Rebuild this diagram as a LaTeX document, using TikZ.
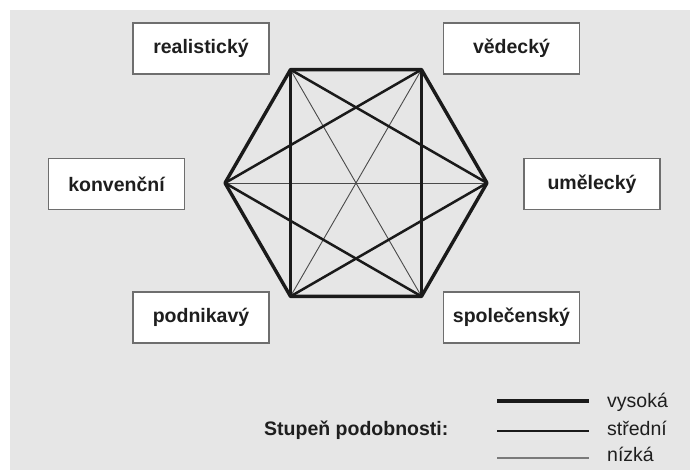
\documentclass[tikz,border=0pt]{standalone}
\usepackage{fontspec}
\setmainfont{Liberation Sans}
\definecolor{bgc}{HTML}{E6E6E6}
\definecolor{boxline}{HTML}{6E6E6E}
\definecolor{txt}{HTML}{1E1E1E}
\definecolor{ink}{HTML}{1A1A1A}
\definecolor{thinink}{HTML}{4A4A4A}
\definecolor{legthin}{HTML}{7A7A7A}
\tikzset{
  typebox/.style={draw=boxline, line width=1.6pt, fill=white, minimum width=136pt, minimum height=51pt, inner sep=0pt, text=txt, font=\fontsize{19.5}{23}\selectfont\bfseries},
  vys/.style={draw=ink, line width=3.4pt, line join=round},
  stred/.style={draw=ink, line width=2.5pt},
  nizka/.style={draw=thinink, line width=0.9pt},
  legtext/.style={text=txt, font=\fontsize{19.5}{23}\selectfont, inner sep=0pt}
}
\begin{document}
\begin{tikzpicture}[x=1pt, y=-1pt]
\useasboundingbox (0,0) rectangle (690,470);
\fill[white] (0,0) rectangle (690,470);
\fill[bgc] (10,10) rectangle (690,470);

% hexagon vertices
\coordinate (TL) at (290.5,69.6);
\coordinate (TR) at (421.5,69.6);
\coordinate (R)  at (487,183);
\coordinate (BR) at (421.5,296.4);
\coordinate (BL) at (290.5,296.4);
\coordinate (L)  at (225,183);

% long diagonals (low)
\draw[nizka] (L) -- (R);
\draw[nizka] (TL) -- (BR);
\draw[nizka] (TR) -- (BL);
% short diagonals (medium)
\draw[stred] (TL) -- (BL);
\draw[stred] (TR) -- (BR);
\draw[stred] (TL) -- (R);
\draw[stred] (TR) -- (L);
\draw[stred] (L) -- (BR);
\draw[stred] (R) -- (BL);
% edges (high)
\draw[vys] (TL) -- (TR) -- (R) -- (BR) -- (BL) -- (L) -- cycle;

% type boxes
\node[typebox] (real) at (201,48.5) {realistický};
\node[typebox] (ved)  at (511.5,48.5) {vědecký};
\node[typebox] (konv) at (116.5,184) {konvenční};
\node[typebox] (umel) at (592,184) {umělecký};
\node[typebox] (podn) at (201,317.5) {podnikavý};
\node[typebox] (spol) at (511.5,317.5) {společenský};

% legend
\node[legtext, font=\fontsize{19.5}{23}\selectfont\bfseries, anchor=base west] (leg) at (264,435.5) {Stupeň podobnosti:};
\coordinate (v1) at (497,401);
\coordinate (v2) at (589,401);
\coordinate (s1) at (497,431);
\coordinate (s2) at (589,431);
\coordinate (n1) at (497,458);
\coordinate (n2) at (589,458);
\draw[vys, line cap=butt] (v1) -- (v2);
\draw[stred] (s1) -- (s2);
\draw[nizka, draw=legthin, line width=1.2pt] (n1) -- (n2);
\node[legtext, anchor=base west] (lv) at (607,407) {vysoká};
\node[legtext, anchor=base west] (ls) at (607,435.5) {střední};
\node[legtext, anchor=base west] (ln) at (607,461) {nízká};
\end{tikzpicture}
\end{document}
